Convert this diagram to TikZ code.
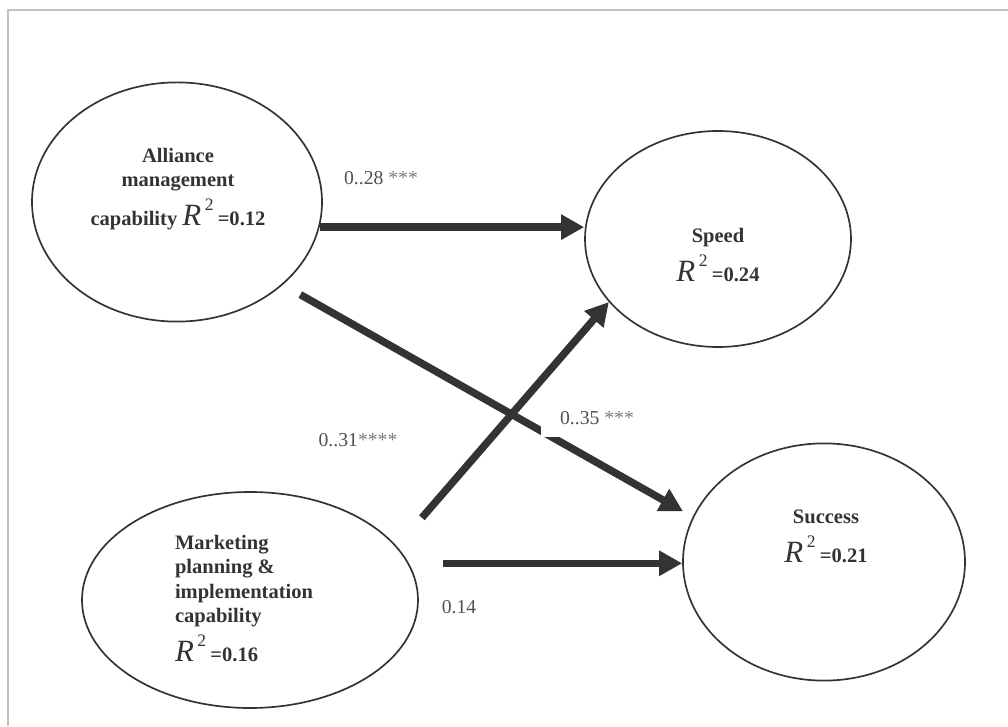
\documentclass[tikz,border=0pt]{standalone}
\usepackage{fontspec}
\setmainfont{Liberation Serif}
\usepackage{tikz}
\usetikzlibrary{
    arrows.meta,
    positioning,
    shapes.geometric
}

\definecolor{inkgray}{HTML}{333336}
\definecolor{framegray}{HTML}{C8C0BC}
\definecolor{coefgray}{HTML}{505050}
\definecolor{stargray}{HTML}{7A7A7A}

% R^2 value as printed inside the ellipses
\newcommand{\rsquare}[1]{\smash{{\fontsize{22pt}{22pt}\selectfont\mdseries\itshape R}%
\hspace{2.5pt}\raisebox{10.5pt}{\fontsize{12.5pt}{12pt}\selectfont\mdseries 2}\hspace{3pt}=#1}}
\newcommand{\stars}[1]{{\color{stargray}#1}}

\begin{document}
\begin{tikzpicture}[
    construct/.style={
        draw=inkgray,
        ellipse,
        line width=1.2pt,
        inner sep=0pt
    },
    lbl/.style={
        align=center,
        text=inkgray,
        font=\fontsize{14.6pt}{17.4pt}\selectfont\bfseries
    },
    coef/.style={
        text=coefgray,
        inner sep=0pt,
        font=\fontsize{14pt}{16pt}\selectfont
    },
    effect/.style={
        draw=inkgray,
        line width=5.3pt,
        -{Triangle[length=0.575cm, width=0.6cm]}
    }
]
\useasboundingbox (0,0) rectangle (25.2,18.15);
\draw[framegray, line width=0.05cm] (0.2,0) |- (25.2,17.9);

\node[construct, minimum width=7.25cm, minimum height=5.98cm] (alliance) at (4.425,13.1) {};
\node[construct, minimum width=6.65cm, minimum height=5.4cm] (speed) at (17.95,12.175) {};
\node[construct, minimum width=7.05cm, minimum height=5.93cm] (success) at (20.6,4.1) {};
\node[construct, minimum width=8.4cm, minimum height=5.4cm] (marketing) at (6.25,3.15) {};

\node[lbl] (alliance-t) at (4.45,13.43)
{Alliance\\management\\[10pt]capability \rsquare{0.12}};
\node[lbl] (speed-t) at (17.95,11.78)
{Speed\\[10pt]\rsquare{0.24}};
\node[lbl] (success-t) at (20.65,4.75)
{Success\\[10pt]\rsquare{0.21}};
\node[lbl, align=left] (marketing-t) at (6.1,3.2)
{Marketing\\planning \&\\implementation\\capability\\[10pt]\rsquare{0.16}};

\draw[effect] (alliance.-10) -- (alliance.-10 -| speed.west);
\draw[effect, shorten <=0.5cm, shorten >=0.28cm] (alliance.-38.7) -- (success.161.7);
\draw[effect, shorten <=0.95cm] (marketing.20.4) -- (speed.-150.4);
\draw[effect, shorten <=0.85cm] (marketing.13.2) -- (marketing.13.2 -| success.west);

\node[coef] (w28) at (9.525,13.7) {0..28 \stars{***}};
\node[coef] (w31) at (8.95,7.15) {0..31\stars{****}};
\node[coef, fill=white, inner xsep=0.475cm, inner ysep=0.3cm] (w35) at (14.925,7.7)
{0..35 \stars{***}};
\node[coef] (w14) at (11.475,2.975) {0.14};

\end{tikzpicture}
\end{document}
